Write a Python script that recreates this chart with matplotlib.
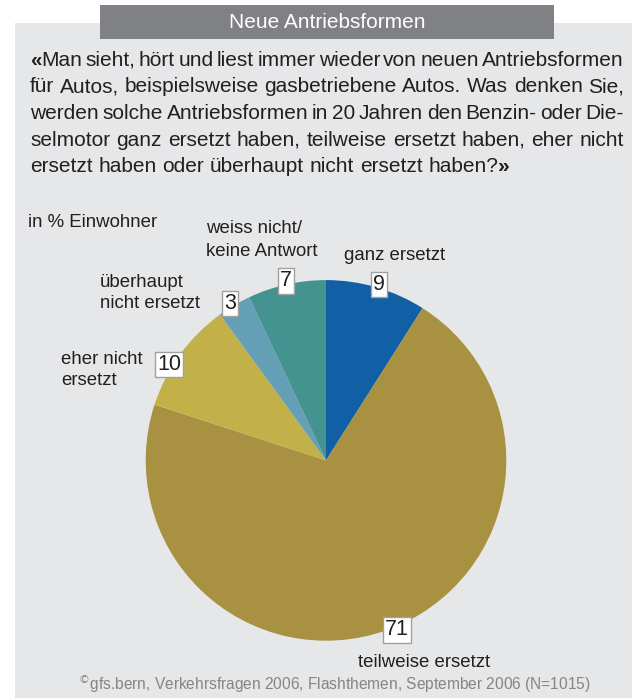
import numpy as np
import matplotlib
matplotlib.use("Agg")
import matplotlib.pyplot as plt
from matplotlib.patches import Rectangle

# --- data ---
categories = ["ganz ersetzt", "teilweise ersetzt", "eher nicht ersetzt",
              "überhaupt nicht ersetzt", "weiss nicht/keine Antwort"]
values = [9, 71, 10, 3, 7]
colors = ["#1160a6", "#a89140", "#c2b149", "#659fb5", "#449390"]

title = "Neue Antriebsformen"
question = [
    "«Man sieht, hört und liest immer wieder von neuen Antriebsformen",
    "für Autos, beispielsweise gasbetriebene Autos. Was denken Sie,",
    "werden solche Antriebsformen in 20 Jahren den Benzin- oder Die-",
    "selmotor ganz ersetzt haben, teilweise ersetzt haben, eher nicht",
    "ersetzt haben oder überhaupt nicht ersetzt haben?»",
]
unit_label = "in % Einwohner"
source = "gfs.bern, Verkehrsfragen 2006, Flashthemen, September 2006 (N=1015)"

W, H = 632, 698
TXT = "#231f20"
FONT = ["Liberation Sans", "DejaVu Sans"]


def Y(y):
    return H - y


fig = plt.figure(figsize=(W / 100, H / 100), dpi=100)
fig.patch.set_facecolor("white")
ax = fig.add_axes([0, 0, 1, 1])

# background panel + header bar
ax.add_patch(Rectangle((15, Y(698)), W - 15, 698 - 23, color="#e6e7e8", lw=0, zorder=0))
ax.add_patch(Rectangle((100, Y(39)), 454, 34, color="#808184", lw=0, zorder=1))
ax.text(327, Y(22), title, color="white", fontsize=15, family=FONT,
        ha="center", va="center", zorder=2)

# pie
cx, cy, R = 326, Y(460.4), 180.3
wedges, _ = ax.pie(values, colors=colors, startangle=90, counterclock=False,
                   center=(cx, cy), radius=R, wedgeprops=dict(linewidth=0))
ax.set_xlim(0, W)
ax.set_ylim(0, H)
ax.set_aspect("auto")
ax.axis("off")

# value boxes just outside the rim (shift = small angle nudge, degrees)
shift = [-0.6, 3, 4.5, 0.8, 0]
for w, v, s in zip(wedges, values, shift):
    ang = np.deg2rad((w.theta1 + w.theta2) / 2 + s)
    x = cx + 1.02 * R * np.cos(ang)
    y = cy + 1.02 * R * np.sin(ang)
    ax.text(x, y, str(v), fontsize=15.5, family=FONT, color=TXT,
            ha="center", va="center", zorder=5,
            bbox=dict(boxstyle="square,pad=0.1", fc="white", ec="#a0a0a0", lw=1))

# category labels (left x, baselines)
lab = dict(fontsize=13.4, family=FONT, color=TXT, ha="left", va="baseline")
ax.text(28, Y(227), unit_label, **lab)
ax.text(206, Y(233), "weiss nicht/", **lab)
ax.text(206, Y(255.5), "keine Antwort", **lab)
ax.text(344, Y(260), "ganz ersetzt", **lab)
ax.text(100, Y(287), "überhaupt", **lab)
ax.text(100, Y(308.5), "nicht ersetzt", **lab)
ax.text(61, Y(364), "eher nicht", **lab)
ax.text(61, Y(385), "ersetzt", **lab)
ax.text(358, Y(667), "teilweise ersetzt", **lab)

# question text, justified between x0 and x1
renderer = fig.canvas.get_renderer()
x0, x1 = 30, 624
baselines = [66, 92.5, 119, 145.5, 172]
qfont = dict(fontsize=15, family=FONT, color=TXT, va="baseline", ha="left")


def width(s, weight):
    t = ax.text(0, 0, s, fontweight=weight, **qfont)
    bb = t.get_window_extent(renderer)
    t.remove()
    return bb.width


for i, (line, yb) in enumerate(zip(question, baselines)):
    words = []
    for w in line.split(" "):
        parts = []
        rest = w
        if rest.startswith("«"):
            parts.append(("«", "bold"))
            rest = rest[1:]
        tail = None
        if rest.endswith("»"):
            tail = ("»", "bold")
            rest = rest[:-1]
        parts.append((rest, "normal"))
        if tail:
            parts.append(tail)
        words.append(parts)
    wws = [sum(width(s, wt) for s, wt in p) for p in words]
    last = i == len(question) - 1
    if last:
        gap = width("a b", "normal") - width("ab", "normal")
    else:
        gap = (x1 - x0 - sum(wws)) / (len(words) - 1)
    x = x0
    for p, ww in zip(words, wws):
        xp = x
        for s, wt in p:
            ax.text(xp, Y(yb), s, fontweight=wt, **qfont)
            xp += width(s, wt)
        x += ww + gap

# source line
ax.text(334, Y(690), r"$^{\copyright}$" + source, fontsize=11.2, family=FONT,
        color="#858585", ha="center", va="baseline")

fig.savefig("out.png", dpi=100)
